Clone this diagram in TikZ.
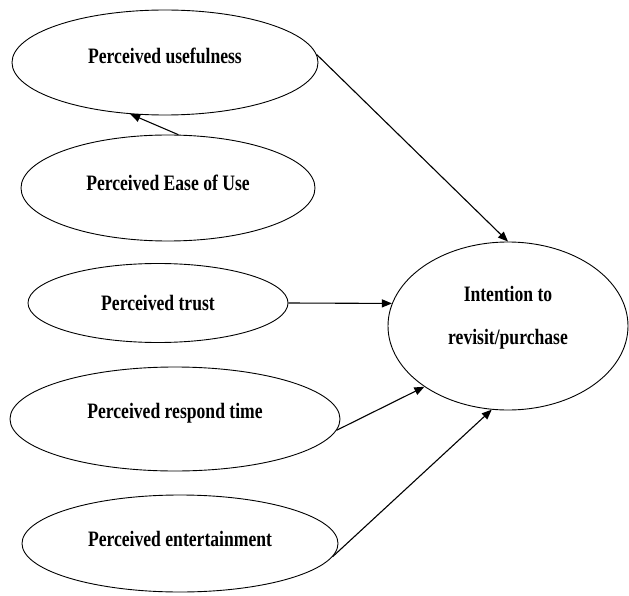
\documentclass[tikz,border=0pt]{standalone}
\usepackage{fontspec}
\setmainfont{Liberation Serif}[FakeStretch=0.8]
\usetikzlibrary{shapes.geometric,arrows.meta}
\begin{document}
\begin{tikzpicture}[x=1pt,y=-1pt,
  oval/.style={draw,ellipse,inner sep=0pt,line width=0.9pt},
  txt/.style={font=\fontsize{22}{22}\selectfont\bfseries},
  conn/.style={line width=1.1pt,-{Triangle[length=10pt,width=8pt]}}]
\useasboundingbox (0,0) rectangle (629,596);
\node[oval,minimum width=306pt,minimum height=105pt,
  label={[txt,yshift=7pt]center:Perceived usefulness}] (use) at (165,62.5) {};
\node[oval,minimum width=294pt,minimum height=106pt,
  label={[txt,yshift=5pt]center:Perceived Ease of Use}] (ease) at (168,188) {};
\node[oval,minimum width=260pt,minimum height=79pt,
  label={[txt,yshift=0pt]center:Perceived trust}] (trust) at (158,303) {};
\node[oval,minimum width=330pt,minimum height=104pt,
  label={[txt,yshift=6pt]center:Perceived respond time}] (resp) at (175,419) {};
\node[oval,minimum width=316pt,minimum height=97pt,
  label={[txt,yshift=5pt]center:Perceived entertainment}] (ent) at (180,543.5) {};
\node[oval,minimum width=240pt,minimum height=168pt,
  label={[txt,yshift=8pt,align=center,font=\fontsize{22}{43}\selectfont\bfseries]center:Intention to\\revisit/purchase}] (int) at (508,326) {};
\draw[conn] (ease.79) -- (use.236);
\draw[conn] (use.3.5) -- (int.north);
\draw[conn] (trust.east) -- (int.169);
\draw[conn] (resp.-4) -- (int.216);
\draw[conn] (ent.-5) -- (int.259);
\end{tikzpicture}
\end{document}
